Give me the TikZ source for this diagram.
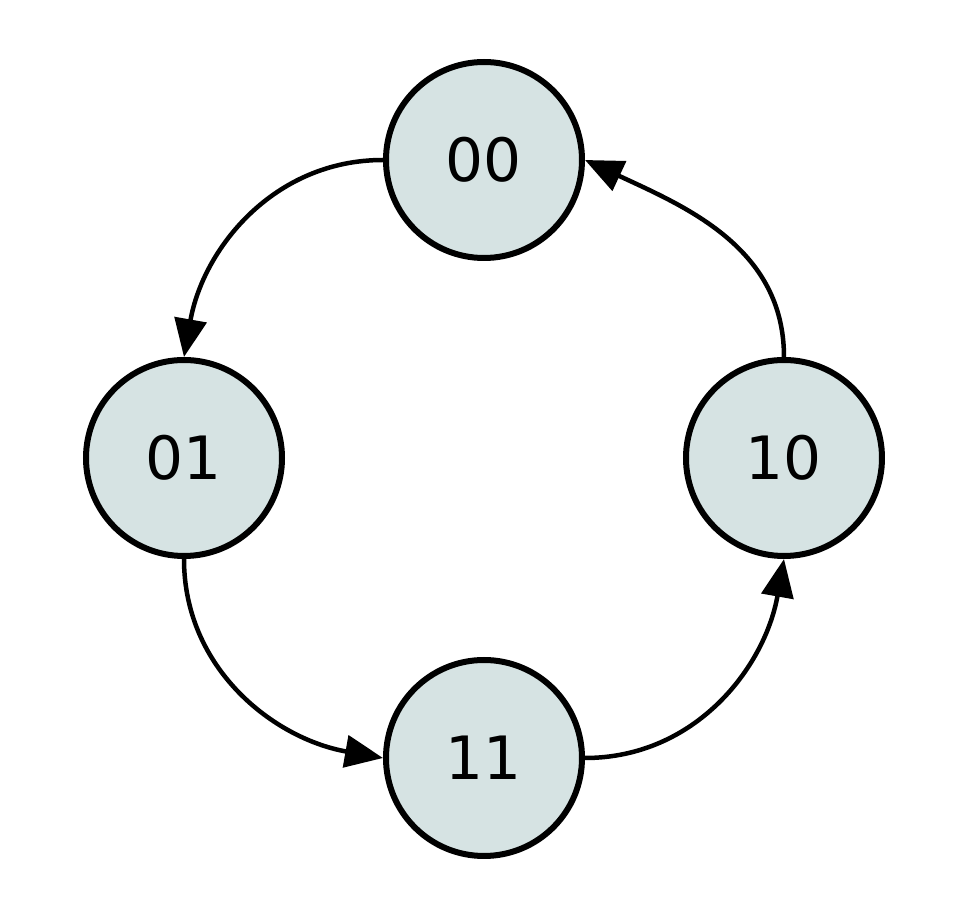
\documentclass[tikz,border=0pt]{standalone}
\usepackage{fontspec}
\setmainfont{DejaVu Sans}
\usetikzlibrary{arrows.meta, positioning}

\definecolor{statefill}{RGB}{214,227,227}

\begin{document}
\begin{tikzpicture}[
      state/.style={circle, draw, line width=0.06cm, minimum size=1.96cm, inner sep=0pt, fill=statefill, font=\fontsize{17}{20}\selectfont},
      arrow/.style={-{Triangle[length=0.38cm, width=0.32cm]}, line width=0.045cm}
    ]
    \useasboundingbox (0,0) rectangle (9.6,-9.24);

    \node[state] (s00) at (4.84,-1.60) {00};
    \node[state] (s01) at (1.84,-4.58) {01};
    \node[state] (s10) at (7.84,-4.58) {10};
    \node[state] (s11) at (4.84,-7.58) {11};

    \draw[arrow] (s00.west) to[out=180, in=80] (s01.north);
    \draw[arrow] (s01.south) to[out=-90, in=170] (s11.west);
    \draw[arrow] (s11.east) to[out=0, in=-100] (s10.south);
    \draw[arrow] (s10.north) to[out=90, in=-25] (s00.east);
  \end{tikzpicture}
\end{document}
